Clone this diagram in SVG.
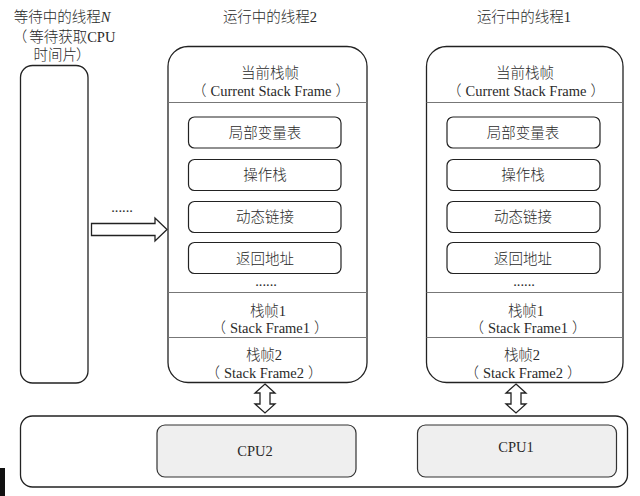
<svg xmlns="http://www.w3.org/2000/svg" width="640" height="496" viewBox="0 0 640 496">
<style>
text{font-family:"Liberation Serif","Noto Sans CJK SC",serif;font-size:14.5px;fill:#2a2a2a;text-anchor:middle;font-weight:300}
.box{fill:#fff;stroke:#222;stroke-width:1.3}
.inner{fill:#fff;stroke:#222;stroke-width:1.2}
.cpu{fill:#efefef;stroke:#333;stroke-width:1.2}
.div{stroke:#777;stroke-width:1.2}
.arr{fill:#fff;stroke:#222;stroke-width:1.3;stroke-linejoin:miter}
</style>
<rect width="640" height="496" fill="#fff"/>

<g id="waiting-thread">
<text x="62" y="22">等待中的线程<tspan font-style="italic">N</tspan></text>
<text x="64" y="42"><tspan>（</tspan><tspan dx="2">等待获取CPU</tspan></text>
<text x="62" y="60">时间片<tspan dx="-1">）</tspan></text>
<rect class="box" x="20.5" y="65.5" width="67.5" height="317.5" rx="12"/>
</g>

<g id="running-thread-2">
<text x="270" y="22">运行中的线程2</text>
<rect class="box" x="168" y="46.5" width="199" height="336" rx="20"/>
<text x="270" y="78">当前栈帧</text>
<text x="271" y="96"><tspan>（</tspan><tspan dx="4">Current Stack Frame</tspan><tspan dx="4">）</tspan></text>
<line class="div" x1="168" y1="102.5" x2="367" y2="102.5"/>
<g id="t2-locals"><rect class="inner" x="188.5" y="117" width="152.5" height="31" rx="6"/><text x="265" y="138">局部变量表</text></g>
<g id="t2-opstack"><rect class="inner" x="188.5" y="159.5" width="152.5" height="31" rx="6"/><text x="265" y="180">操作栈</text></g>
<g id="t2-dynlink"><rect class="inner" x="188.5" y="201.5" width="152.5" height="31" rx="6"/><text x="265" y="222">动态链接</text></g>
<g id="t2-retaddr"><rect class="inner" x="188.5" y="242.5" width="152.5" height="31" rx="6"/><text x="265" y="264">返回地址</text></g>
<text x="266" y="286" font-size="11">......</text>
<line class="div" x1="168" y1="292.5" x2="367" y2="292.5"/>
<text x="268" y="316">栈帧1</text>
<text x="270" y="333"><tspan>（</tspan><tspan dx="4">Stack Frame1</tspan><tspan dx="4">）</tspan></text>
<line class="div" x1="168" y1="337.5" x2="367" y2="337.5"/>
<text x="264" y="360">栈帧2</text>
<text x="264" y="378"><tspan>（</tspan><tspan dx="4">Stack Frame2</tspan><tspan dx="4">）</tspan></text>
</g>

<g id="running-thread-1">
<text x="524" y="22">运行中的线程1</text>
<rect class="box" x="426.5" y="46.5" width="196.5" height="336" rx="20"/>
<text x="525" y="78">当前栈帧</text>
<text x="526" y="96"><tspan>（</tspan><tspan dx="4">Current Stack Frame</tspan><tspan dx="4">）</tspan></text>
<line class="div" x1="426.5" y1="102.5" x2="623" y2="102.5"/>
<g id="t1-locals"><rect class="inner" x="447" y="117" width="153" height="31" rx="6"/><text x="523" y="138">局部变量表</text></g>
<g id="t1-opstack"><rect class="inner" x="447" y="159.5" width="153" height="31" rx="6"/><text x="523" y="180">操作栈</text></g>
<g id="t1-dynlink"><rect class="inner" x="447" y="201.5" width="153" height="31" rx="6"/><text x="523" y="222">动态链接</text></g>
<g id="t1-retaddr"><rect class="inner" x="447" y="242.5" width="153" height="31" rx="6"/><text x="523" y="264">返回地址</text></g>
<text x="524" y="286" font-size="11">......</text>
<line class="div" x1="426.5" y1="292.5" x2="623" y2="292.5"/>
<text x="526" y="316">栈帧1</text>
<text x="528" y="333"><tspan>（</tspan><tspan dx="4">Stack Frame1</tspan><tspan dx="4">）</tspan></text>
<line class="div" x1="426.5" y1="337.5" x2="623" y2="337.5"/>
<text x="522" y="360">栈帧2</text>
<text x="523" y="378"><tspan>（</tspan><tspan dx="4">Stack Frame2</tspan><tspan dx="4">）</tspan></text>
</g>

<g id="cpu-board">
<rect class="box" x="20.5" y="416" width="607" height="71" rx="12"/>
<g id="cpu2"><rect class="cpu" x="157" y="425" width="199" height="52" rx="8"/><text x="255" y="456">CPU2</text></g>
<g id="cpu1"><rect class="cpu" x="417.5" y="425" width="199" height="52" rx="8"/><text x="516" y="452">CPU1</text></g>
</g>

<g id="connectors">
<text x="122" y="212" font-size="11">......</text>
<polygon class="arr" points="91.5,223.5 155,223.5 155,218 167,229.5 155,241 155,235.5 91.5,235.5"/>
<polygon class="arr" points="265,384 275,393 270,393 270,404 275,404 265,413 255,404 260,404 260,393 255,393"/>
<polygon class="arr" points="516,384 526,393 521,393 521,404 526,404 516,413 506,404 511,404 511,393 506,393"/>
</g>

<rect x="0" y="468" width="5" height="28" fill="#111"/>
</svg>
